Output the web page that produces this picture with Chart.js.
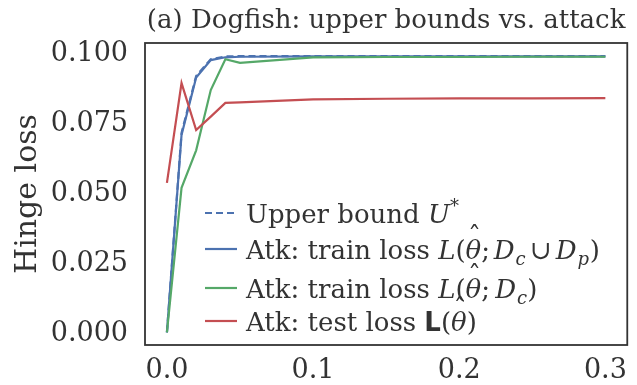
<!DOCTYPE html>
<html>
<head>
<meta charset="utf-8">
<script src="https://cdn.jsdelivr.net/npm/chart.js@4.4.1/dist/chart.umd.min.js"></script>
<style>
  html, body { margin: 0; padding: 0; background: #fff; }
  #wrap { width: 637px; height: 385px; }
</style>
</head>
<body>
<div id="wrap"><canvas id="c" width="637" height="385"></canvas></div>
<script>
// Poisoning fraction on the x axis
const epsilon = [0, 0.01, 0.02, 0.03, 0.04, 0.05, 0.1, 0.15, 0.2, 0.25, 0.3];

// Hinge losses for each curve
const upperBound   = [0, 0.0712, 0.0915, 0.0975, 0.0985, 0.0986, 0.0986, 0.0986, 0.0986, 0.0986, 0.0986];
const trainAll     = [0, 0.0705, 0.0910, 0.0972, 0.0982, 0.0984, 0.0985, 0.0985, 0.0985, 0.0985, 0.0985];
const trainClean   = [0, 0.0516, 0.0650, 0.0865, 0.0975, 0.0962, 0.0982, 0.0983, 0.0983, 0.0984, 0.0984];
const testLoss     = [0.0534, 0.0890, 0.0722, 0.0770, 0.0819, 0.0821, 0.0832, 0.0834, 0.0835, 0.0835, 0.0836];

const xTicks = [0, 0.1, 0.2, 0.3];
const yTicks = [0, 0.025, 0.05, 0.075, 0.1];

const BLUE = '#4C72B0', GREEN = '#55A868', RED = '#C44E52';
const INK = '#333333';
const SERIF = '"DejaVu Serif", serif';

const pts = ys => epsilon.map((x, i) => ({ x, y: ys[i] }));

// Legend entries written as runs of mixed-style text; 'sp' runs are gaps in em
const legendRuns = [
  [['Upper bound ', 'r'], ['U', 'i'], ['*', 'sup']],
  [['Atk: train loss ', 'r'], ['L', 'i'], ['(', 'r'], ['θ', 'hat'], [';', 'r'], [0.14, 'sp'], ['D', 'cal'], ['c', 'sub'],
   [0.16, 'sp'], ['∪', 'r'], [0.16, 'sp'], ['D', 'cal'], ['p', 'sub'], [0.02, 'sp'], [')', 'r']],
  [['Atk: train loss ', 'r'], ['L', 'i'], ['(', 'r'], ['θ', 'hat'], [';', 'r'], [0.2, 'sp'], ['D', 'cal'], ['c', 'sub'], [')', 'r']],
  [['Atk: test loss ', 'r'], ['L', 'b'], ['(', 'r'], ['θ', 'hat'], [')', 'r']]
];

const datasets = [
  { label: 'Upper bound U*', data: pts(upperBound), borderColor: BLUE, borderDash: [7, 4], order: 4 },
  { label: 'Atk: train loss L(θ; Dc ∪ Dp)', data: pts(trainAll), borderColor: BLUE, order: 3 },
  { label: 'Atk: train loss L(θ; Dc)', data: pts(trainClean), borderColor: GREEN, order: 2 },
  { label: 'Atk: test loss L(θ)', data: pts(testLoss), borderColor: RED, order: 1 }
].map(d => Object.assign({ borderWidth: 2.2, pointRadius: 0, fill: false, tension: 0 }, d));

function fontFor(style, size) {
  switch (style) {
    case 'i': case 'cal': case 'hat': return `italic ${size}px ${SERIF}`;
    case 'sub': case 'sup': return `italic ${Math.round(size * 0.7)}px ${SERIF}`;
    case 'b': return `bold ${size}px "DejaVu Sans", sans-serif`;
    default: return `${size}px ${SERIF}`;
  }
}

function drawRuns(ctx, runs, x, y, size) {
  for (const [t, style] of runs) {
    if (style === 'sp') { x += t * size; continue; }
    ctx.font = fontFor(style, size);
    let dy = 0;
    if (style === 'sub') dy = size * 0.22;
    if (style === 'sup') dy = -size * 0.42;
    const w = ctx.measureText(t).width;
    ctx.fillText(t, x, y + dy);
    if (style === 'hat') {
      ctx.font = `${size}px ${SERIF}`;
      ctx.textAlign = 'center';
      ctx.fillText('\u02C6', x + w / 2 + 1, y - size * 0.55);
      ctx.textAlign = 'left';
    }
    x += w + (style === 'cal' ? size * 0.04 : 0);
  }
}

const decor = {
  id: 'decor',
  afterDatasetsDraw(chart) {
    const { ctx, chartArea: a } = chart;
    ctx.save();
    // axes frame
    ctx.strokeStyle = INK;
    ctx.lineWidth = 1.8;
    ctx.strokeRect(a.left, a.top, a.right - a.left, a.bottom - a.top);

    // title
    ctx.fillStyle = INK;
    ctx.font = `26px ${SERIF}`;
    ctx.textAlign = 'center';
    ctx.textBaseline = 'middle';
    ctx.fillText('(a) Dogfish: upper bounds vs. attack', (a.left + a.right) / 2, 21);

    // legend
    const rowsY = [213, 249, 288, 321];
    const x0 = 205, x1 = 237, tx = 246, size = 26;
    ctx.textBaseline = 'alphabetic';
    ctx.textAlign = 'left';
    chart.data.datasets.forEach((ds, i) => {
      const y = rowsY[i];
      ctx.strokeStyle = ds.borderColor;
      ctx.lineWidth = ds.borderWidth;
      ctx.setLineDash(ds.borderDash || []);
      ctx.beginPath();
      ctx.moveTo(x0, y);
      ctx.lineTo(x1, y);
      ctx.stroke();
      ctx.setLineDash([]);
      ctx.fillStyle = INK;
      drawRuns(ctx, legendRuns[i], tx, y + 10, size);
    });
    ctx.restore();
  }
};

new Chart(document.getElementById('c'), {
  type: 'line',
  data: { datasets },
  options: {
    responsive: false,
    animation: false,
    layout: { padding: { top: 43, right: 4, left: 0, bottom: 0 } },
    plugins: { legend: { display: false }, tooltip: { enabled: false }, title: { display: false } },
    scales: {
      x: {
        type: 'linear',
        min: -0.015, max: 0.315,
        grid: { display: false, drawTicks: false },
        border: { display: false },
        afterBuildTicks: s => { s.ticks = xTicks.map(v => ({ value: v })); },
        afterFit: s => { s.height = 40; },
        ticks: {
          color: INK, padding: 10,
          font: { family: SERIF, size: 27 },
          callback: v => v.toFixed(1)
        }
      },
      y: {
        min: -0.0045, max: 0.1033,
        grid: { display: false, drawTicks: false },
        border: { display: false },
        afterBuildTicks: s => { s.ticks = yTicks.map(v => ({ value: v })); },
        afterFit: s => { s.width = 145; },
        title: {
          display: true, text: 'Hinge loss', color: INK,
          font: { family: SERIF, size: 30 },
          padding: { top: 10, bottom: 0 }
        },
        ticks: {
          color: INK, padding: 17, labelOffset: 2,
          font: { family: SERIF, size: 27 },
          callback: v => v.toFixed(3)
        }
      }
    }
  },
  plugins: [decor]
});
</script>
</body>
</html>
